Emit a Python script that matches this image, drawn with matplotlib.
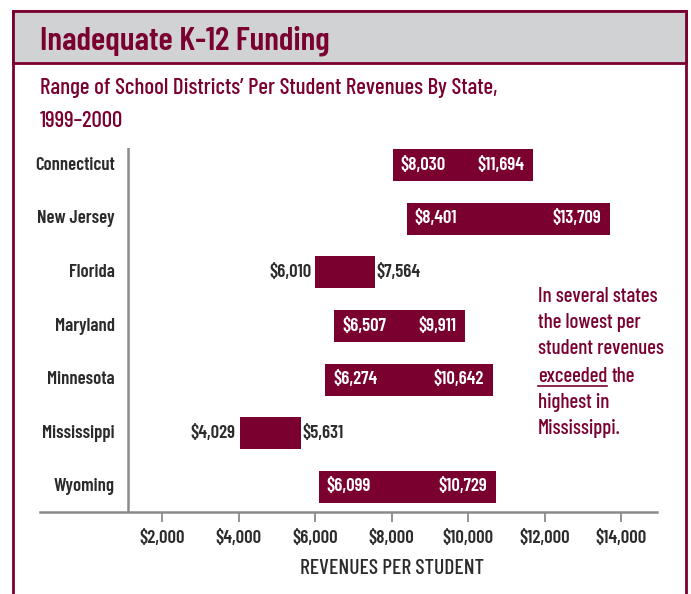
import matplotlib
matplotlib.use("Agg")
import matplotlib.pyplot as plt
from matplotlib.patches import Rectangle
from matplotlib.lines import Line2D
import matplotlib.transforms as mtransforms

plt.rcParams["font.family"] = ["Barlow Condensed", "DejaVu Sans"]

# data
states = ["Connecticut", "New Jersey", "Florida", "Maryland",
          "Minnesota", "Mississippi", "Wyoming"]
low = [8030, 8401, 6010, 6507, 6274, 4029, 6099]
high = [11694, 13709, 7564, 9911, 10642, 5631, 10729]
labels_inside = [True, True, False, True, True, False, True]
xticks = [2000, 4000, 6000, 8000, 10000, 12000, 14000]
xticklabels = ["$2,000", "$4,000", "$6,000", "$8,000",
               "$10,000", "$12,000", "$14,000"]

MAROON = "#7a0030"
GRAY = "#d1d2d4"
DARK = "#2b2b2b"
AXIS = "#8a8a8a"

W, H = 691, 594
fig = plt.figure(figsize=(W / 100, H / 100), dpi=100)

def fx(px):
    return px / W

def fy(py):
    return 1 - py / H

# frame and header band
fig.patches.append(Rectangle((fx(13), fy(600)), fx(686) - fx(13), fy(11) - fy(600),
                             transform=fig.transFigure, facecolor="none",
                             edgecolor=MAROON, lw=2, zorder=0))
fig.patches.append(Rectangle((fx(13), fy(63)), fx(686) - fx(13), fy(11) - fy(63),
                             transform=fig.transFigure, facecolor=GRAY,
                             edgecolor=MAROON, lw=2, zorder=1))

fig.text(fx(40), fy(50), "Inadequate K-12 Funding", color=MAROON,
         fontsize=24, fontweight="semibold", va="baseline", ha="left")
fig.text(fx(40), fy(94), "Range of School Districts\u2019 Per Student Revenues By State,",
         color=MAROON, fontsize=16.5, fontweight="medium", va="baseline", ha="left")
fig.text(fx(40), fy(127), "1999\u20132000", color=MAROON, fontsize=16.5,
         fontweight="medium", va="baseline", ha="left")

# axes
ax = fig.add_axes([fx(40), fy(512), fx(657) - fx(40), fy(148) - fy(512)])
ax.set_facecolor("none")
ax.set_xlim(-1190, 14941)
ax.set_ylim(6.466, -0.317)

ypos = list(range(len(states)))
widths = [h - l for l, h in zip(low, high)]
ax.barh(ypos, widths, left=low, height=0.6, color=MAROON)

fs = 13.5
wt = "semibold"
for y, l, h, inside in zip(ypos, low, high, labels_inside):
    lo_txt = "${:,}".format(l)
    hi_txt = "${:,}".format(h)
    if inside:
        ax.text(l + 200, y, lo_txt, color="white", fontsize=fs,
                fontweight=wt, ha="left", va="center")
        ax.text(h - 220, y, hi_txt, color="white", fontsize=fs,
                fontweight=wt, ha="right", va="center")
    else:
        ax.text(l - 100, y, lo_txt, color=DARK, fontsize=fs,
                fontweight=wt, ha="right", va="center")
        ax.text(h + 40, y, hi_txt, color=DARK, fontsize=fs,
                fontweight=wt, ha="left", va="center")

# state names
trans = mtransforms.blended_transform_factory(fig.transFigure, ax.transData)
for y, s in zip(ypos, states):
    ax.text(fx(115), y, s, transform=trans, ha="right", va="center",
            color=DARK, fontsize=fs, fontweight=wt)

# axis lines
ax.axvline(1111, color=AXIS, lw=1.8)
for side in ["top", "right", "left"]:
    ax.spines[side].set_visible(False)
ax.spines["bottom"].set_color(AXIS)
ax.spines["bottom"].set_linewidth(1.8)
ax.set_yticks([])
ax.set_xticks(xticks)
ax.set_xticklabels(xticklabels, fontsize=fs, fontweight=wt, color=DARK)
ax.tick_params(axis="x", direction="out", length=7, width=1.3, color=AXIS, pad=6)
ax.text(8000, 6.466 + 1.05, "REVENUES PER STUDENT", ha="center", va="center",
        fontsize=15.5, fontweight="medium", color=DARK)

# side note
note_lines = ["In several states", "the lowest per", "student revenues",
              None, "highest in", "Mississippi."]
line_y = [296, 322, 349, 376, 403, 429]
nfs = 15
for txt, py in zip(note_lines, line_y):
    if txt is not None:
        fig.text(fx(538), fy(py), txt, color=MAROON, fontsize=nfs,
                 fontweight="medium", ha="left", va="center")
t1 = fig.text(fx(538), fy(376), "exceeded", color=MAROON, fontsize=nfs,
              fontweight="medium", ha="left", va="center")
fig.canvas.draw()
bb = t1.get_window_extent().transformed(fig.transFigure.inverted())
fig.text(bb.x1 + fx(4), fy(376), "the", color=MAROON, fontsize=nfs,
         fontweight="medium", ha="left", va="center")
fig.lines.append(Line2D([bb.x0, bb.x1], [fy(386), fy(386)],
                        transform=fig.transFigure, color=MAROON, lw=1.2))

fig.savefig("out.png", dpi=100)
